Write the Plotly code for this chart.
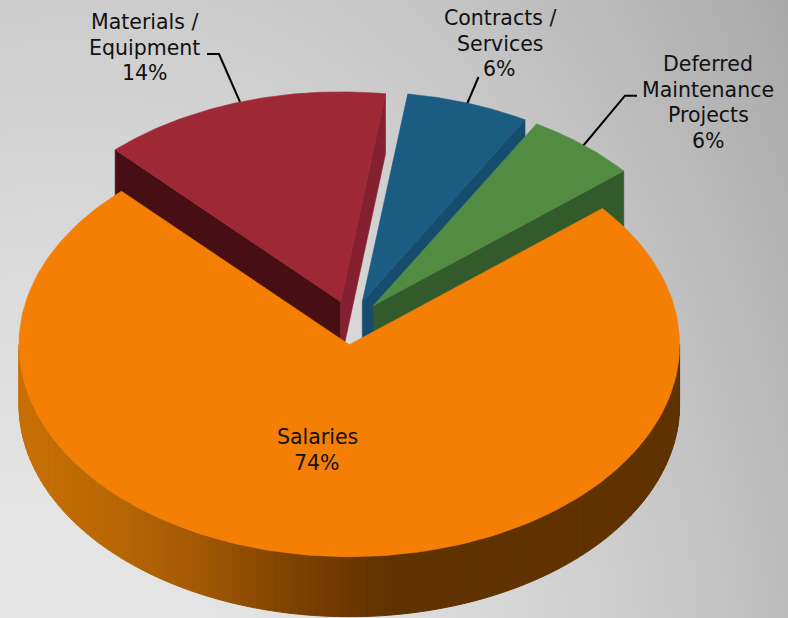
import numpy as np
import plotly.graph_objects as go

# ---- data (percent of total) ----
categories = ["Salaries", "Materials / Equipment", "Contracts / Services", "Deferred Maintenance Projects"]
values = [74.0, 14.3, 6.1, 5.6]
value_labels = ["74%", "14%", "6%", "6%"]

# ---- geometry of the oblique pie ----
W, H = 788, 618
CX, CY = 351.2, 322.7
RX, RY = 330.3, 212.0
BACK_SCALE = 0.99
DEPTH = 60.0
EXPLODE = 0.104
START = 50.0

TOP = {"Salaries": "#F47F04", "Materials / Equipment": "#9E2836",
       "Contracts / Services": "#1A5C82", "Deferred Maintenance Projects": "#528C43"}
LEFT_FACE = {"Materials / Equipment": "#470F14"}
RIGHT_FACE = {"Materials / Equipment": "#84202F", "Contracts / Services": "#164C6E",
              "Deferred Maintenance Projects": "#335A2A"}

def hexrgb(h):
    return np.array([int(h[i:i+2], 16) for i in (1, 3, 5)], float)

RIM_X = [19, 110, 200, 290, 350, 400]
RIM_C = [hexrgb(c) for c in ["#C87004", "#B96805", "#A25803", "#7E4301", "#6C3801", "#5F3200"]]

def rim_color(x):
    c = [np.interp(x, RIM_X, [k[i] for k in RIM_C]) for i in range(3)]
    return "rgb(%d,%d,%d)" % tuple(c)

# slice spans derived from the values
total = sum(values)
spans = {}
a = START
for c, v in zip(categories, values):
    spans[c] = (a, a + v / total * 360.0)
    a = spans[c][1]

def apex(c):
    a0, a1 = spans[c]
    m = np.radians((a0 + a1) / 2)
    return CX + EXPLODE * RX * np.sin(m), CY - EXPLODE * RY * np.cos(m)

def rim_pt(c, deg):
    ax, ay = apex(c)
    t = np.radians(deg)
    k = 1.0 if c == categories[0] else BACK_SCALE
    return ax + k * RX * np.sin(t), ay - k * RY * np.cos(t)

fig = go.Figure()

# background gradient
gx = np.linspace(0, W, 80)
gy = np.linspace(0, H, 62)
X, Y = np.meshgrid(gx, gy)
Z = 230 - 42 * (X / W) ** 2.2 - 26 * (1 - Y / H) ** 1.4 * (1 - 0.25 * X / W)
fig.add_trace(go.Heatmap(x=gx, y=gy, z=Z, zmin=0, zmax=255, zsmooth="best", showscale=False,
                         colorscale=[[0, "rgb(0,0,0)"], [1, "rgb(255,255,255)"]], hoverinfo="skip"))

def poly(xs, ys, color, lw=0.6):
    fig.add_trace(go.Scatter(x=list(xs), y=list(ys), mode="lines", fill="toself", fillcolor=color,
                             line=dict(color=color, width=lw), hoverinfo="skip", showlegend=False))

def line(xs, ys):
    fig.add_trace(go.Scatter(x=xs, y=ys, mode="lines", line=dict(color="#000000", width=2),
                             hoverinfo="skip", showlegend=False))

def side_face(c, deg, color):
    ax, ay = apex(c)
    px, py = rim_pt(c, deg)
    poly([ax, px, px, ax, ax], [ay, py, py + DEPTH, ay + DEPTH, ay], color)

def top_face(c):
    ax, ay = apex(c)
    a0, a1 = spans[c]
    ts = np.linspace(a0, a1, 200)
    pts = [rim_pt(c, t) for t in ts]
    poly([ax] + [p[0] for p in pts] + [ax], [ay] + [p[1] for p in pts] + [ay], TOP[c])

# leader lines (under the slices)
line([207, 219, 240], [54, 54, 102])
line([478.5, 467], [77, 104])
line([637, 625, 583], [95.7, 95.7, 146])

# back slices
for c in categories[1:]:
    a0, a1 = spans[c]
    if c in LEFT_FACE:
        side_face(c, a0, LEFT_FACE[c])
    side_face(c, a1, RIGHT_FACE[c])
    top_face(c)

# front slice: shaded rim strips, then the top
s = categories[0]
for t0 in np.arange(90.0, 270.0, 1.5):
    t = [t0, t0 + 1.5]
    p = [rim_pt(s, k) for k in t]
    poly([p[0][0], p[1][0], p[1][0], p[0][0], p[0][0]],
         [p[0][1], p[1][1], p[1][1] + DEPTH, p[0][1] + DEPTH, p[0][1]],
         rim_color((p[0][0] + p[1][0]) / 2), lw=1)
top_face(s)

# labels, one annotation per line to hold the reference's line spacing
LINE_GAP = 25.7
anns = [
    (144.5, 47.5, ["Materials /", "Equipment", value_labels[1]]),
    (499.5, 43.5, ["Contracts /", "Services", value_labels[2]]),
    (708, 102.5, ["Deferred", "Maintenance", "Projects", value_labels[3]]),
    (317, 450, ["Salaries", value_labels[0]]),
]
for x, yc, lines in anns:
    for i, txt in enumerate(lines):
        fig.add_annotation(x=x, y=yc + (i - (len(lines) - 1) / 2) * LINE_GAP, xref="x", yref="y",
                           text=txt, showarrow=False, align="center", xanchor="center", yanchor="middle",
                           font=dict(family="DejaVu Sans", size=20.5, color="#111111"))

fig.update_xaxes(range=[0, W], visible=False, fixedrange=True)
fig.update_yaxes(range=[H, 0], visible=False, fixedrange=True)
fig.update_layout(width=W, height=H, margin=dict(l=0, r=0, t=0, b=0), showlegend=False,
                  paper_bgcolor="#D8D8D8", plot_bgcolor="#D8D8D8")

fig.write_html("out.html", config={"displayModeBar": False},
               post_script="document.body.style.margin='0';document.body.style.overflow='hidden';")
